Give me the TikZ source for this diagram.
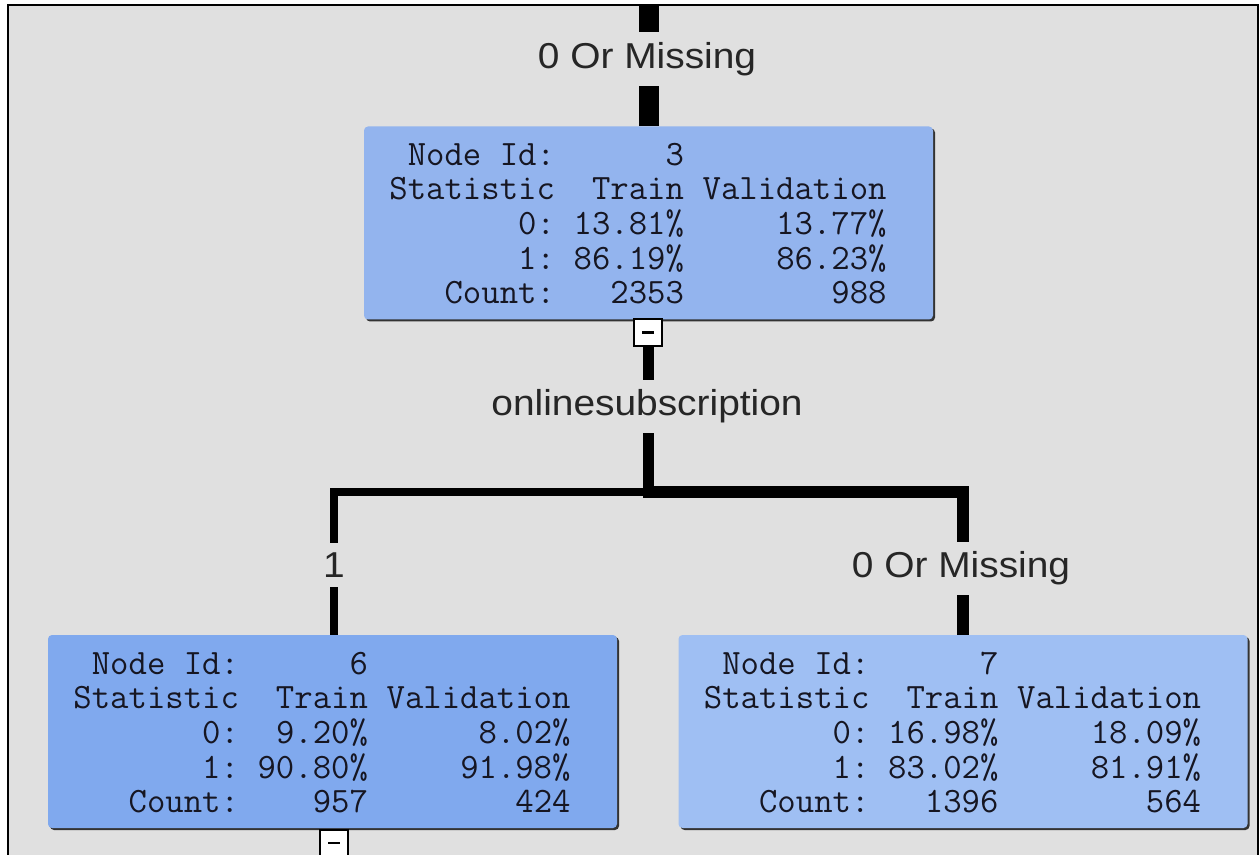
\documentclass[tikz,border=0pt]{standalone}
\usepackage{fontspec}
\setmainfont{Liberation Sans}
\usetikzlibrary{shadows}
\definecolor{bg}{RGB}{224,224,224}
\definecolor{boxA}{RGB}{147,180,238}
\definecolor{boxB}{RGB}{128,169,238}
\definecolor{boxC}{RGB}{159,191,243}
\definecolor{txt}{RGB}{22,22,34}
\newcommand\stattab[7]{\raisebox{0pt}[\dimexpr\height+5pt\relax][\depth]{\ttfamily\addfontfeature{FakeBold=0.6}\fontsize{17.85pt}{17pt}\selectfont\color{txt}%
\begin{tabular}{@{}r@{\hspace{9.37pt}}r@{\hspace{9.37pt}}r@{}}
Node Id: & #1 & \\
Statistic & Train & Validation\\
0: & #2 & #3\\
1: & #4 & #5\\
Count: & #6 & #7
\end{tabular}}\kern10.5pt\relax}
\newcommand\edgelbl[1]{\scalebox{1.08}[1]{\fontsize{18pt}{20pt}\selectfont #1}}
\begin{document}
\begin{tikzpicture}[x=0.5pt,y=-0.5pt,
  statbox/.style={rectangle, rounded corners=2pt, minimum width=284.5pt, minimum height=96.5pt, inner sep=0pt,
    drop shadow={shadow xshift=1pt, shadow yshift=-1pt, fill=black!80, opacity=1}},
  btn/.style={rectangle, draw=black, line width=1pt, fill=white, minimum width=14pt, minimum height=13.5pt, inner sep=0pt,
    path picture={\fill[black] ([xshift=-3pt,yshift=-0.7pt]path picture bounding box.center) rectangle ([xshift=3pt,yshift=0.7pt]path picture bounding box.center);}},
  elabel/.style={inner sep=0pt, text=black!85},
  conn/.style={draw=black, line join=miter}
]
\useasboundingbox (0,0) rectangle (1259,855);
\clip (0,0) rectangle (1259,855);
\fill[white] (0,0) rectangle (1259,855);
\draw[line width=1pt, fill=bg] (8,5) rectangle (1258,900);

% boxes
\node[statbox, fill=boxA] (n3) at (648.5,223) {\stattab{3}{13.81\%}{13.77\%}{86.19\%}{86.23\%}{2353}{988}};
\node[statbox, fill=boxB] (n6) at (332.5,731.5) {\stattab{6}{9.20\%}{8.02\%}{90.80\%}{91.98\%}{957}{424}};
\node[statbox, fill=boxC] (n7) at (963,731.5) {\stattab{7}{16.98\%}{18.09\%}{83.02\%}{81.91\%}{1396}{564}};

% collapse buttons
\node[btn] (b3) at (647.5,332.5) {};
\node[btn] (b6) at (334,843) {};

% edge labels
\node[elabel, minimum height=27pt] (l0) at (647,59) {\edgelbl{0 Or Missing}};
\node[elabel, minimum height=26.5pt] (lo) at (647,406.5) {\edgelbl{onlinesubscription}};
\node[elabel, minimum height=22pt] (l1) at (334,565) {\edgelbl{1}};
\node[elabel, minimum height=26.5pt] (l7) at (961,568.5) {\edgelbl{0 Or Missing}};

% connectors
\coordinate (top) at (648.5,5);
\coordinate (j) at (648.5,492.5);
\coordinate (js) at (643,492.5);
\coordinate (jl) at (334,492.5);
\coordinate (jr) at (963,492.5);
\draw[conn, line width=10pt] (top) -- (top |- l0.north);
\draw[conn, line width=10pt] (top |- l0.south) -- (n3.north);
\draw[conn, line width=5.5pt] (j |- b3.south) -- (j |- lo.north);
\draw[conn, line width=5.5pt] (j |- lo.south) -- (j);
\draw[conn, line width=4pt] (j) -- (jl) -- (jl |- l1.north);
\draw[conn, line width=4pt] (jl |- l1.south) -- (jl |- n6.north);
\draw[conn, line width=6pt] (js) -- (jr) -- (jr |- l7.north);
\draw[conn, line width=6pt] (jr |- l7.south) -- (n7.north);
\end{tikzpicture}
\end{document}
